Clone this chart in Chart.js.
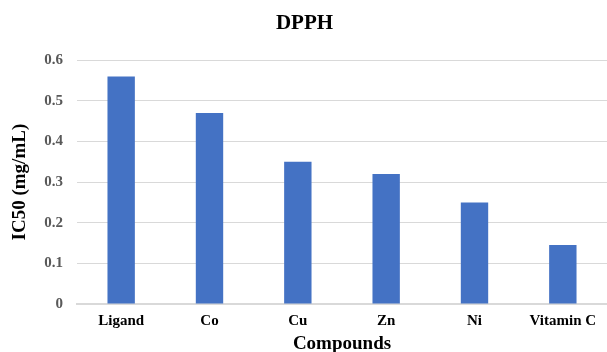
<!DOCTYPE html>
<html>
<head>
<meta charset="utf-8">
<script src="https://cdn.jsdelivr.net/npm/chart.js@4"></script>
<style>
  html, body { margin: 0; padding: 0; background: #fff; }
  #wrap { width: 607px; height: 352px; }
</style>
</head>
<body>
<div id="wrap"><canvas id="chart" width="607" height="352"></canvas></div>
<script>
// DPPH radical scavenging, IC50 per compound
const categories = ['Ligand', 'Co', 'Cu', 'Zn', 'Ni', 'Vitamin C'];
const ic50Values = [0.56, 0.47, 0.35, 0.32, 0.25, 0.145];
const yTickLabels = ['0', '0.1', '0.2', '0.3', '0.4', '0.5', '0.6'];

const serif = "'Liberation Serif', 'Times New Roman', serif";

new Chart(document.getElementById('chart'), {
  type: 'bar',
  data: {
    labels: categories,
    datasets: [{
      data: ic50Values,
      backgroundColor: '#4472C4',
      borderWidth: 0,
      barPercentage: 0.31,
      categoryPercentage: 1
    }]
  },
  options: {
    responsive: false,
    animation: false,
    layout: { padding: { left: 0, right: -2, top: 0, bottom: 0 } },
    plugins: {
      legend: { display: false },
      tooltip: { enabled: false },
      title: {
        display: true,
        text: 'DPPH',
        color: '#000',
        font: { family: serif, size: 21, weight: 'bold', lineHeight: 1.2 },
        padding: { top: 11, bottom: 24 }
      }
    },
    scales: {
      x: {
        afterFit: (s) => { s.height = 48; },
        grid: { display: false, drawTicks: false },
        border: { display: true, color: '#d9d9d9', width: 2 },
        ticks: {
          color: '#000',
          padding: 8,
          maxRotation: 0,
          font: { family: serif, size: 15, weight: 'bold' }
        },
        title: {
          display: true,
          text: 'Compounds',
          color: '#000',
          font: { family: serif, size: 19, weight: 'bold', lineHeight: 0.85 },
          padding: { top: 0, bottom: 0 }
        }
      },
      y: {
        min: 0,
        max: 0.6,
        afterFit: (s) => { s.width = 77; },
        afterBuildTicks: (s) => {
          s.ticks = yTickLabels.map((t) => ({ value: parseFloat(t) }));
        },
        grid: { color: '#d9d9d9', lineWidth: 1, drawTicks: false },
        border: { display: false },
        ticks: {
          color: '#595959',
          padding: 14,
          font: { family: serif, size: 15, weight: 'bold' },
          callback: (v, i) => yTickLabels[i]
        },
        title: {
          display: true,
          text: 'IC50 (mg/mL)',
          color: '#000',
          font: { family: serif, size: 19, weight: 'bold', lineHeight: 1.2 },
          padding: { top: 9, bottom: 0 }
        }
      }
    }
  }
});
</script>
</body>
</html>
